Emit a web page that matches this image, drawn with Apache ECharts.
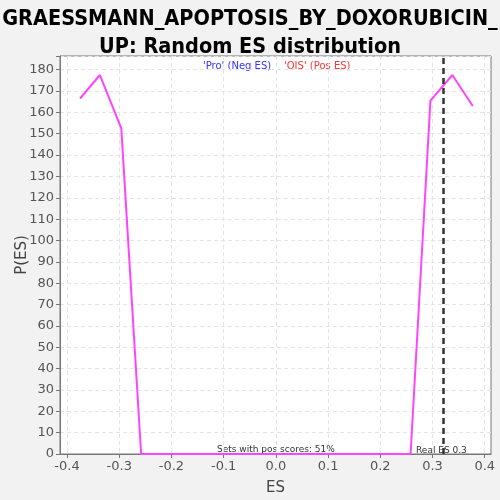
<!DOCTYPE html>
<html><head><meta charset="utf-8">
<script src="https://cdn.jsdelivr.net/npm/echarts@6/dist/echarts.min.js"></script>
<style>html,body{margin:0;padding:0;background:#f2f2f2}#c{width:500px;height:500px}</style>
</head><body><div id="c"></div>
<script>
const esValues = [-0.375, -0.337, -0.296, -0.258, -0.2, -0.1, 0.0, 0.1, 0.2, 0.258, 0.296, 0.338, 0.377];
const pValues  = [166.5, 177.5, 152.5, 0, 0, 0, 0, 0, 0, 0, 165.5, 177.5, 163];
const realES = 0.321;
const xTicks = [-0.4, -0.3, -0.2, -0.1, 0.0, 0.1, 0.2, 0.3, 0.4];
const titleLines = ["GRAESSMANN_APOPTOSIS_BY_DOXORUBICIN_", "UP: Random ES distribution"];
const legendNeg = "'Pro' (Neg ES)";
const legendPos = "'OIS' (Pos ES)";
const posText = "Sets with pos scores: 51%";
const realText = "Real ES 0.3";

const chart = echarts.init(document.getElementById('c'), null, {renderer:'canvas'});
chart.setOption({
  backgroundColor:'#f2f2f2',
  animation:false,
  title:{text:titleLines.join('\n'), left:'center', top:0,
    textStyle:{fontFamily:'DejaVu Sans Condensed', fontWeight:'bold', fontSize:21.5, color:'#000', lineHeight:28}},
  grid:{left:60, right:9, top:56, bottom:46, outerBoundsMode:'none', containLabel:false,
    show:true, backgroundColor:'#fff', borderColor:'#777', borderWidth:1},
  xAxis:{type:'value', min:-0.4134, max:0.412, interval:0.1,
    name:'ES', nameLocation:'middle', nameGap:27, nameMoveOverlap:false,
    nameTextStyle:{fontFamily:'DejaVu Sans', fontSize:15, color:'#444'},
    axisLine:{show:true, onZero:false, lineStyle:{color:'#777'}},
    axisTick:{show:true, length:4, lineStyle:{color:'#777'}, customValues: xTicks},
    axisLabel:{fontFamily:'DejaVu Sans', fontSize:13, color:'#555', margin:6,
      customValues: xTicks, formatter:v=>v.toFixed(1)},
    splitLine:{show:true, lineStyle:{color:'#e4e4e4', type:[4,3]}}},
  yAxis:{type:'value', min:0, max:186.4, interval:10,
    name:'P(ES)', nameLocation:'middle', nameGap:30, nameMoveOverlap:false,
    nameTextStyle:{fontFamily:'DejaVu Sans', fontSize:15, color:'#444'},
    axisLine:{show:true, onZero:false, lineStyle:{color:'#777'}},
    axisTick:{show:true, length:4, lineStyle:{color:'#777'}},
    axisLabel:{fontFamily:'DejaVu Sans', fontSize:13, color:'#555', margin:6,
      formatter:v=> (Math.abs(v-Math.round(v))<1e-6 && Math.round(v)%10===0 && v<=180) ? String(Math.round(v)) : ''},
    splitLine:{show:true, lineStyle:{color:'#e4e4e4', type:[4,3]}}},
  series:[
    {type:'line', data:esValues.map((x,i)=>[x,pValues[i]]), symbol:'none',
      lineStyle:{color:'#ff44ff', width:2}, z:3},
    {type:'line', data:[], markLine:{silent:true, symbol:'none', label:{show:false},
      lineStyle:{color:'#333', width:2.5, type:[6,4]}, data:[{xAxis:realES}]}, z:4}
  ],
  graphic:[
    {type:'text', left:203, top:61, style:{text:legendNeg, font:'10px "DejaVu Sans"', fill:'#3333ff'}},
    {type:'text', left:284, top:61, style:{text:legendPos, font:'10px "DejaVu Sans"', fill:'#ff3333'}},
    {type:'text', left:217, top:445, style:{text:posText, font:'9px "DejaVu Sans"', fill:'#333'}},
    {type:'text', left:416, top:446, style:{text:realText, font:'9px "DejaVu Sans"', fill:'#333'}}
  ]
});
</script></body></html>
